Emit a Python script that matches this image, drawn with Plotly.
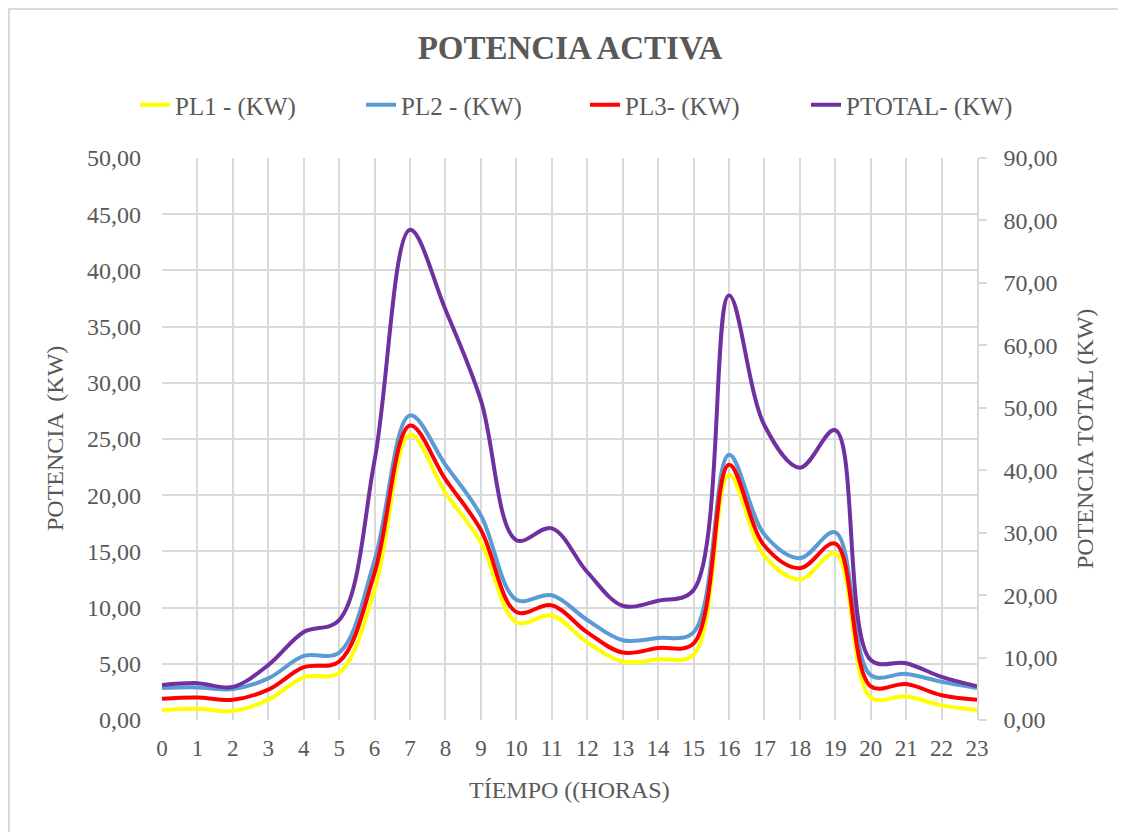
import plotly.graph_objects as go

hours = list(range(24))
pl1 = [0.9, 1.0, 0.8, 1.8, 3.8, 4.2, 11.6, 25.4, 20.2, 15.8, 8.7, 9.3, 6.9, 5.2, 5.4, 5.8, 21.8, 14.6, 12.5, 14.8, 2.0, 2.1, 1.3, 0.9]
pl2 = [2.85, 2.9, 2.75, 3.7, 5.7, 6.0, 14.2, 27.1, 22.7, 18.2, 10.7, 11.1, 8.9, 7.1, 7.3, 7.8, 23.6, 16.5, 14.4, 16.7, 4.0, 4.1, 3.4, 2.85]
pl3 = [1.9, 2.0, 1.8, 2.7, 4.7, 5.2, 13.1, 26.2, 21.4, 16.9, 9.6, 10.2, 7.8, 6.0, 6.4, 6.8, 22.7, 15.5, 13.5, 15.7, 3.0, 3.2, 2.2, 1.8]
ptotal = [5.6, 5.9, 5.3, 8.8, 14.1, 16.0, 41.6, 78.5, 65.7, 51.2, 28.8, 30.7, 23.7, 18.3, 19.1, 20.8, 68.0, 47.2, 40.4, 46.4, 9.6, 9.1, 6.9, 5.4]

names = ["PL1 - (KW)", "PL2 - (KW)", "PL3- (KW)", "PTOTAL- (KW)"]
colors = ["#FFFF00", "#5B9BD5", "#FF0000", "#7030A0"]

FONT = "Liberation Serif, Times New Roman, serif"
GRAY = "#595959"
GRID = "#D9D9D9"

# page offset of the figure (browser body margin)
OFF = 8
W, H = 1118, 824
PL, PR, PT, PB = 162, 977, 158, 720  # plot area in page pixels
PW, PH = PR - PL, PB - PT

def px(x):
    return (x - PL) / PW

def py(y):
    return (PB - y) / PH

legend_ids = ["legend", "legend2", "legend3", "legend4"]
legend_text_x = [177, 403, 627, 848]

fig = go.Figure()
for vals, name, col, yax, lid in zip([pl1, pl2, pl3, ptotal], names, colors, ["y", "y", "y", "y2"], legend_ids):
    fig.add_trace(go.Scatter(
        x=hours, y=vals, name=name, mode="lines", yaxis=yax, legend=lid,
        line=dict(color=col, width=4, shape="spline", smoothing=1.0),
    ))

legend_layout = {}
for lid, tx in zip(legend_ids, legend_text_x):
    legend_layout[lid] = dict(orientation="h", x=px(tx - 42), xanchor="left",
                              y=py(105), yanchor="middle",
                              font=dict(family=FONT, size=25, color=GRAY),
                              bgcolor="rgba(0,0,0,0)")

fig.update_layout(
    width=W, height=H,
    margin=dict(l=PL - OFF, r=OFF + W - PR, t=PT - OFF, b=OFF + H - PB, autoexpand=False),
    paper_bgcolor="white", plot_bgcolor="white",
    separators=",.",
    font=dict(family=FONT, color=GRAY, size=24),
    title=dict(text="<b>POTENCIA ACTIVA</b>", x=(570 - OFF) / W,
               xref="container", xanchor="center",
               y=1 - (47 - OFF) / H, yanchor="middle",
               font=dict(family=FONT, size=33, color=GRAY)),
    showlegend=True,
    xaxis=dict(range=[0, 23], tickvals=hours, ticktext=[str(h) for h in hours],
               showgrid=True, gridcolor=GRID, gridwidth=1.5, zeroline=False,
               showline=False, ticks="", ticklabelstandoff=12, automargin=False,
               tickfont=dict(size=23, color=GRAY, family=FONT)),
    yaxis=dict(range=[0, 50], dtick=5, tickformat=".2f", showgrid=True, gridcolor=GRID,
               gridwidth=1.5, zeroline=False, showline=False, ticks="",
               ticklabelstandoff=20, automargin=False,
               tickfont=dict(size=24, color=GRAY, family=FONT)),
    yaxis2=dict(range=[0, 90], dtick=10, tickformat=".2f", overlaying="y", side="right",
                showgrid=False, zeroline=False, showline=True, linecolor=GRID, linewidth=1.5,
                ticks="outside", ticklen=8, tickcolor=GRID, tickwidth=1.5,
                ticklabelstandoff=12, automargin=False,
                tickfont=dict(size=24, color=GRAY, family=FONT)),
    **legend_layout,
)

fig.add_annotation(text="POTENCIA  (KW)", xref="paper", yref="paper",
                   x=px(55), y=0.5, textangle=-90, showarrow=False,
                   xanchor="center", yanchor="middle", font=dict(size=24, color=GRAY, family=FONT))
fig.add_annotation(text="POTENCIA TOTAL (KW)", xref="paper", yref="paper",
                   x=px(1085), y=0.5, textangle=-90, showarrow=False,
                   xanchor="center", yanchor="middle", font=dict(size=24, color=GRAY, family=FONT))
fig.add_annotation(text="TÍEMPO ((HORAS)", xref="paper", yref="paper",
                   x=0.5, y=py(790), showarrow=False,
                   xanchor="center", yanchor="middle", font=dict(size=24, color=GRAY, family=FONT))

# outer chart border (Excel chart area)
fig.add_shape(type="rect", xref="paper", yref="paper",
              x0=px(9), x1=px(1140), y0=py(860), y1=py(9),
              line=dict(color=GRID, width=2), fillcolor="rgba(0,0,0,0)", layer="below")

fig.write_html("out.html")
